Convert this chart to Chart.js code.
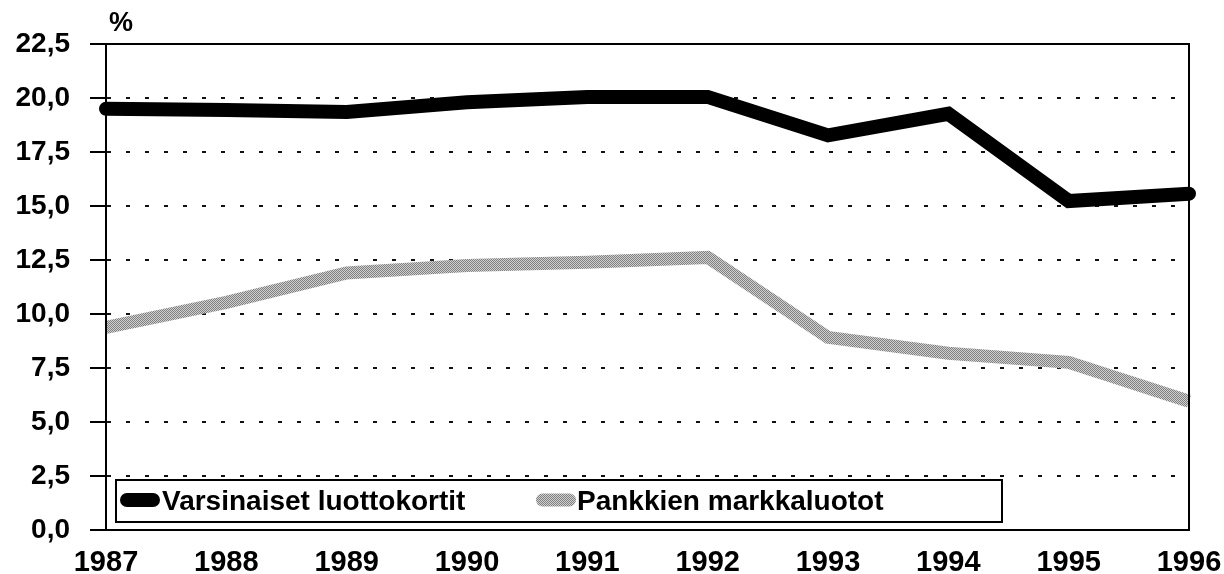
<!DOCTYPE html>
<html>
<head>
<meta charset="utf-8">
<script src="https://cdn.jsdelivr.net/npm/chart.js@4"></script>
<style>
  html, body { margin: 0; padding: 0; background: #ffffff; }
  #chart-wrap { width: 1224px; height: 574px; }
</style>
</head>
<body>
<div id="chart-wrap"><canvas id="chart" width="1224" height="574"></canvas></div>
<script>
const years = ['1987', '1988', '1989', '1990', '1991', '1992', '1993', '1994', '1995', '1996'];
const card_values = [19.5, 19.45, 19.35, 19.8, 20.05, 20.05, 18.27, 19.27, 15.23, 15.57];
const bank_values = [9.38, 10.54, 11.9, 12.24, 12.4, 12.62, 8.92, 8.18, 7.76, 5.96];
const series_names = ['Varsinaiset luottokortit', 'Pankkien markkaluotot'];
const y_unit = '%';

const font_family = '"Liberation Sans", Arial, sans-serif';

// dithered grey like the scanned original
function makeGreyPattern(){
    let c = document.createElement('canvas');
    c.width = 2;
    c.height = 2;
    let cx = c.getContext('2d');
    cx.fillStyle = '#d0d0d0';
    cx.fillRect(0, 0, 2, 2);
    cx.fillStyle = '#808080';
    cx.fillRect(0, 0, 1, 1);
    cx.fillRect(1, 1, 1, 1);
    return cx.createPattern(c, 'repeat');
}
const grey = makeGreyPattern();

const frameAndLegend = {
    id: 'frameAndLegend',
    afterDatasetsDraw(chart){
        const {ctx, chartArea} = chart;
        ctx.save();
        // frame round the plot
        ctx.strokeStyle = '#000';
        ctx.lineWidth = 2;
        ctx.strokeRect(chartArea.left, chartArea.top, chartArea.right - chartArea.left, chartArea.bottom - chartArea.top);

        // unit label
        ctx.fillStyle = '#000';
        ctx.font = 'bold 27px ' + font_family;
        ctx.textAlign = 'center';
        ctx.textBaseline = 'middle';
        ctx.fillText(y_unit, chartArea.left + 15, 24);

        // legend box inside the plot
        const bx = chartArea.left + 10;
        const by = chartArea.bottom - 50;
        const bw = 886;
        const bh = 42;
        ctx.fillStyle = '#fff';
        ctx.fillRect(bx, by, bw, bh);
        ctx.strokeRect(bx, by, bw, bh);

        const cy = by + 20;
        const items = [
            {x: bx + 4, len: 40, text_x: bx + 46},
            {x: bx + 420, len: 40, text_x: bx + 461}
        ];
        ctx.font = 'bold 28px ' + font_family;
        ctx.textAlign = 'left';
        chart.data.datasets.forEach((ds, i) => {
            let it = items[i];
            ctx.beginPath();
            ctx.lineCap = 'round';
            ctx.lineWidth = ds.borderWidth;
            ctx.strokeStyle = ds.borderColor;
            ctx.moveTo(it.x + ds.borderWidth / 2, cy);
            ctx.lineTo(it.x + it.len - ds.borderWidth / 2, cy);
            ctx.stroke();
            ctx.fillStyle = '#000';
            ctx.fillText(ds.label, it.text_x, cy + 2);
        });
        ctx.restore();
    }
};

Chart.defaults.font.family = font_family;
Chart.defaults.font.weight = 'bold';
Chart.defaults.color = '#000';

new Chart(document.getElementById('chart'), {
    type: 'line',
    data: {
        labels: years,
        datasets: [{
            label: series_names[0],
            data: card_values,
            borderColor: '#000',
            borderWidth: 14,
            borderCapStyle: 'round',
            borderJoinStyle: 'miter',
            pointRadius: 0,
            tension: 0,
            clip: false
        }, {
            label: series_names[1],
            data: bank_values,
            borderColor: grey,
            borderWidth: 13,
            borderCapStyle: 'butt',
            borderJoinStyle: 'miter',
            pointRadius: 0,
            tension: 0,
            clip: false
        }]
    },
    options: {
        responsive: false,
        animation: false,
        layout: {
            padding: {top: 44, right: 35, bottom: 0, left: 0}
        },
        plugins: {
            legend: {display: false},
            tooltip: {enabled: false}
        },
        scales: {
            x: {
                grid: {display: false, drawTicks: false},
                border: {display: true, color: '#000', width: 2},
                ticks: {
                    font: {size: 29, weight: 'bold'},
                    color: '#000',
                    padding: 16,
                    maxRotation: 0,
                    autoSkip: false
                },
                afterFit: (scale) => {
                    scale.height = 44;
                    scale.paddingLeft = 0;
                    scale.paddingRight = 0;
                }
            },
            y: {
                min: 0,
                max: 22.5,
                grid: {
                    color: '#111',
                    lineWidth: 2,
                    tickLength: 16,
                    tickColor: '#000',
                    tickWidth: 2,
                    tickBorderDash: []
                },
                border: {display: true, color: '#000', width: 2, dash: [4, 15]},
                ticks: {
                    stepSize: 2.5,
                    font: {size: 28, weight: 'bold'},
                    color: '#000',
                    padding: 20,
                    callback: (v) => Number(v).toFixed(1).replace('.', ',')
                },
                afterFit: (scale) => {
                    scale.width = 106;
                    scale.paddingTop = 0;
                    scale.paddingBottom = 0;
                }
            }
        }
    },
    plugins: [frameAndLegend]
});
</script>
</body>
</html>
